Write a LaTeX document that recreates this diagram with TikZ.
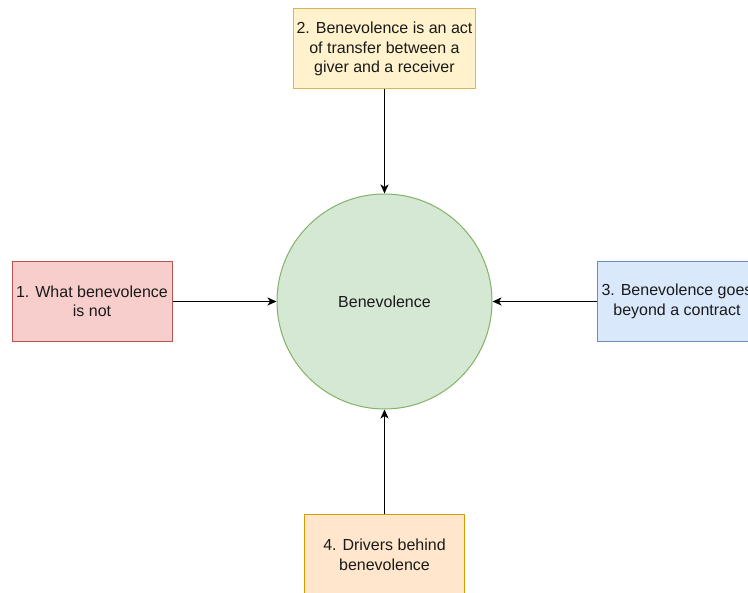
\documentclass[tikz,border=0pt]{standalone}
\usepackage{fontspec}
\setmainfont{Liberation Sans}
\usetikzlibrary{arrows.meta}
\definecolor{redfill}{HTML}{F8CECC}\definecolor{redline}{HTML}{B85450}
\definecolor{yelfill}{HTML}{FFF2CC}\definecolor{yelline}{HTML}{D6B656}
\definecolor{blufill}{HTML}{DAE8FC}\definecolor{bluline}{HTML}{6C8EBF}
\definecolor{orafill}{HTML}{FFE6CC}\definecolor{oraline}{HTML}{D79B00}
\definecolor{grnfill}{HTML}{D5E8D4}\definecolor{grnline}{HTML}{82B366}
\definecolor{txt}{HTML}{1A1A1A}
\begin{document}
\begin{tikzpicture}[x=1pt,y=-1pt,
  box/.style={rectangle, draw, line width=1pt, minimum width=160pt, minimum height=80pt,
    inner sep=0pt, align=center, text=txt, font=\fontsize{16}{19.5}\selectfont},
  hub/.style={circle, draw=grnline, fill=grnfill, line width=1pt, minimum size=215pt,
    inner sep=0pt, text=txt, font=\fontsize{16}{19.5}\selectfont},
  link/.style={line width=1.2pt, -{Stealth[length=9pt,width=8pt,inset=2.5pt]}}]
\useasboundingbox (0,0) rectangle (748,593);
\clip (0,0) rectangle (748,593);
\fill[white] (0,0) rectangle (748,593);
% central topic
\node[hub] (c) at (384.5,301.5) {Benevolence};
% the four aspects around it
\node[box, draw=yelline, fill=yelfill, minimum width=182pt] (t) at (384.5,49)
  {2. Benevolence is an act\\of transfer between a\\giver and a receiver};
\node[box, draw=redline, fill=redfill] (l) at (92,301.5)
  {1. What benevolence\\is not};
\node[box, draw=bluline, fill=blufill] (r) at (677,301.5)
  {3. Benevolence goes\\beyond a contract};
\node[box, draw=oraline, fill=orafill] (b) at (384.5,555)
  {4. Drivers behind\\benevolence};
% connectors pointing into the centre
\draw[link] (t) -- (c);
\draw[link] (l) -- (c);
\draw[link] (r) -- (c);
\draw[link] (b) -- (c);
\end{tikzpicture}
\end{document}
